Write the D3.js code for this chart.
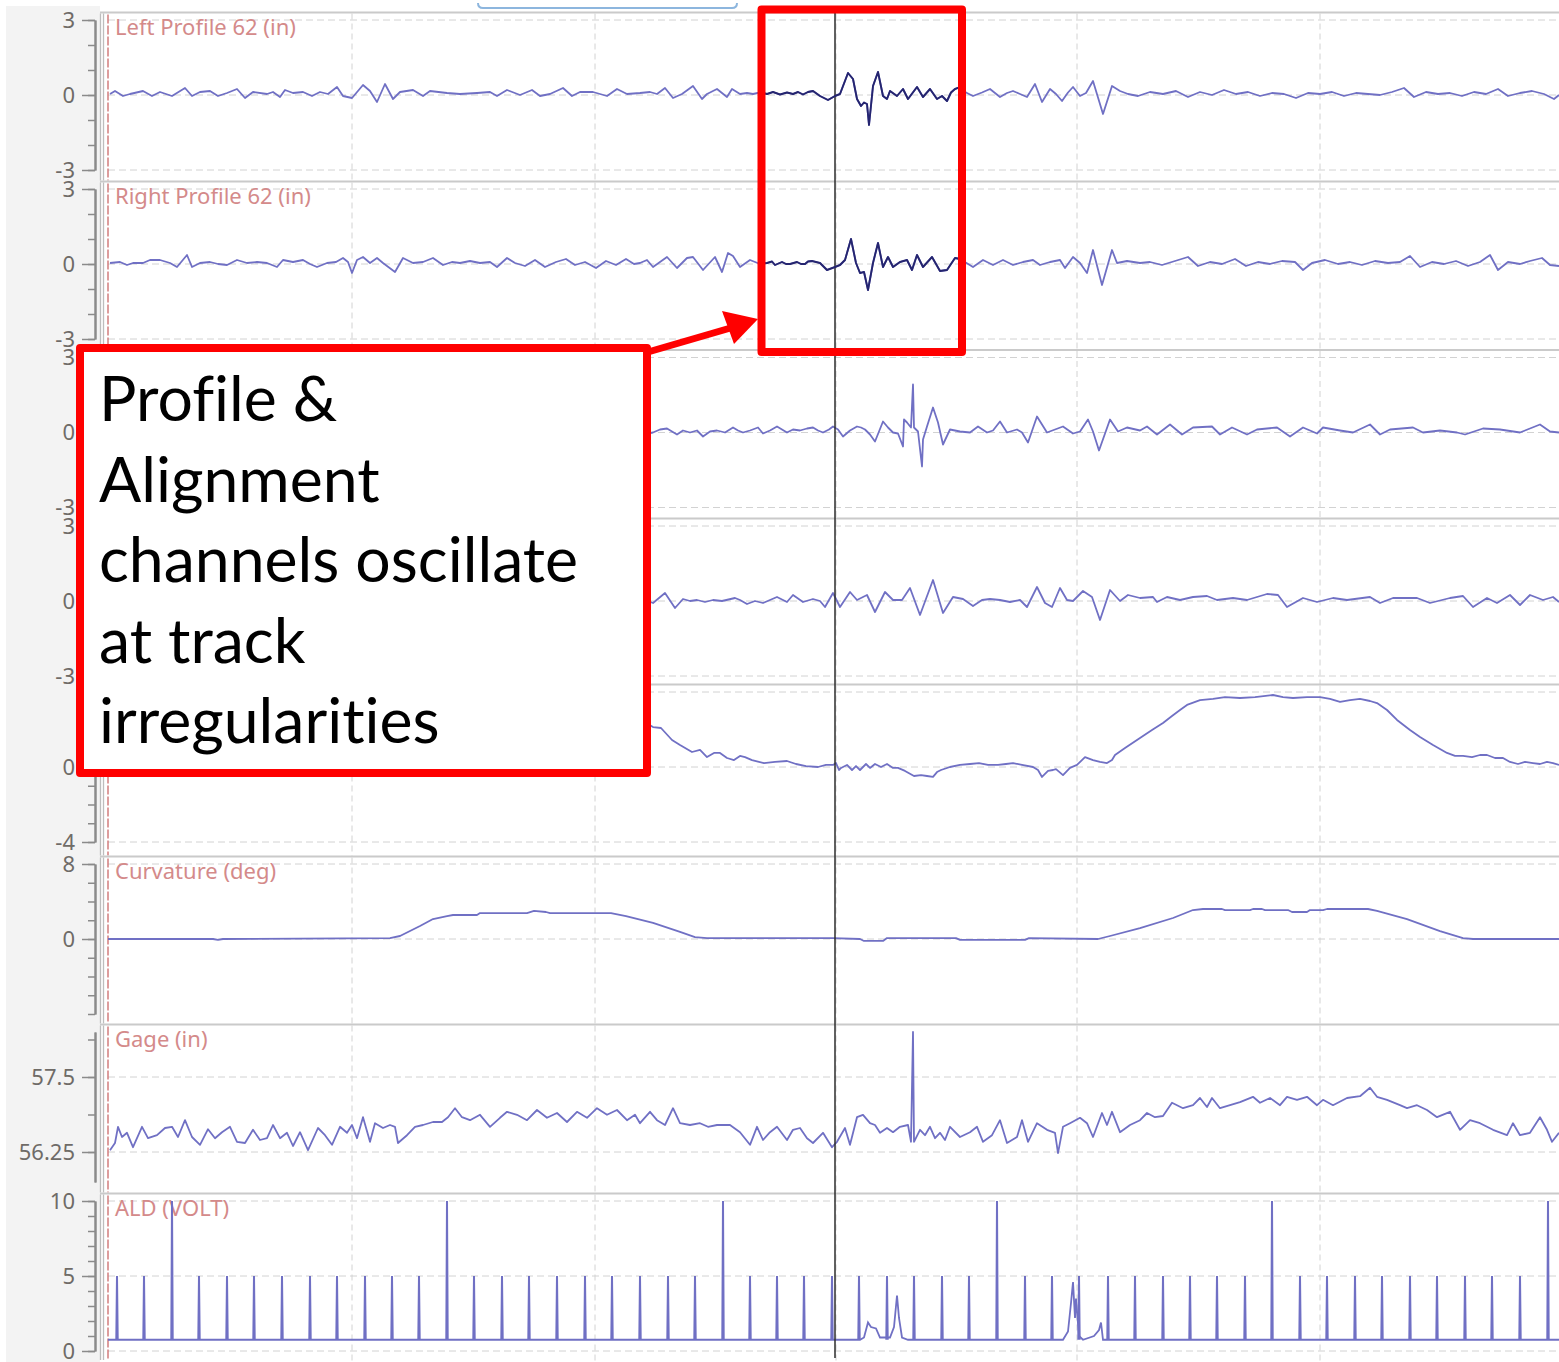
<!DOCTYPE html>
<html>
<head>
<meta charset="utf-8">
<script src="https://cdn.jsdelivr.net/npm/d3@7"></script>
<style>
  html, body { margin: 0; padding: 0; background: #fff; }
  svg { display: block; }
  text { font-variant-ligatures: none; font-feature-settings: "liga" 0, "clig" 0; }
</style>
</head>
<body>
<svg id="chart" width="1559" height="1362"></svg>
<script>
// ---- Channel setup ----------------------------------------------------
const channelTitles = ["Left Profile 62 (in)", "Right Profile 62 (in)", "", "", "", "Curvature (deg)", "Gage (in)", "ALD (VOLT)"];
const channelDomains = [[-3, 3], [-3, 3], [-3, 3], [-3, 3], [-4, 4], [-8, 8], [55.75, 58.25], [0, 10]];
const channelTickLabels = [[3, 0, -3], [3, 0, -3], [3, 0, -3], [3, 0, -3], [0, -4], [8, 0], [57.5, 56.25], [10, 5, 0]];
const channelMinorStep = [1, 1, 1, 1, 1, 2, 0.625, 1];

// distance positions of the dashed vertical grid and of the cursor
const gridPositions = [244, 487, 728, 969, 1212];
const cursorPosition = 727;

// ---- Channel traces: [distance, value] --------------------------------
const leftProfile62 = [[2,0.04],[7,0.16],[15,-0.04],[22,0.04],[35,0.16],[44,-0.04],[52,0.12],[64,-0.04],[77,0.28],[84,-0.04],[92,0.12],[102,0.16],[110,-0.04],[119,0.08],[129,0.24],[137,-0.12],[145,0.12],[159,0.04],[165,0.12],[172,-0.08],[177,0.2],[185,0.08],[195,0.12],[204,-0.04],[212,0.12],[220,0.04],[229,0.32],[235,-0.04],[244,-0.12],[255,0.4],[262,0.16],[269,-0.28],[277,0.44],[285,-0.16],[292,0.12],[305,0.2],[315,-0.04],[322,0.16],[339,0.08],[352,0.04],[369,0.08],[382,0.12],[389,-0.04],[399,0.2],[412,0],[424,0.2],[432,-0.04],[442,0.04],[455,0.28],[464,-0.04],[472,0.12],[485,0.12],[499,-0.04],[509,0.24],[519,0.04],[532,0.08],[542,0.12],[549,0.04],[557,0.28],[565,-0.12],[574,0.04],[585,0.36],[594,-0.16],[599,0.04],[609,0.24],[619,-0.08],[624,0.24],[632,0.04],[639,0.08],[645,0.04],[652,0.1],[659,0.04],[665,0.12],[672,0.02],[679,0.1],[685,0.04],[690,0.12],[695,0.02],[700,0.12],[705,0.16],[712,-0.04],[720,-0.2],[727,-0.04],[732,0.04],[740,0.88],[745,0.64],[749,-0.16],[753,-0.44],[756,-0.3],[759,-0.36],[761,-1.2],[765,0.36],[770,0.92],[775,-0.04],[779,-0.16],[782,0.16],[789,-0.04],[795,0.24],[800,-0.16],[809,0.32],[815,-0.08],[822,0.24],[829,-0.16],[834,-0.04],[839,-0.24],[843,0.1],[847,0.24],[852,0.32],[858,0.1],[865,-0.04],[874,0.1],[882,0.24],[892,-0.08],[899,0.08],[905,0.16],[912,0.04],[919,-0.08],[927,0.44],[934,-0.28],[942,0.24],[948,0.04],[954,-0.24],[960,0.1],[965,0.32],[972,-0.04],[978,0.08],[985,0.56],[995,-0.76],[1004,0.36],[1012,0.16],[1020,0.04],[1030,-0.04],[1042,0.12],[1055,0.04],[1068,0.16],[1080,-0.08],[1092,0.12],[1104,0],[1116,0.2],[1128,0.04],[1140,0.12],[1152,-0.04],[1164,0.08],[1176,0.04],[1188,-0.12],[1200,0.08],[1212,0.04],[1224,0.12],[1236,-0.04],[1248,0.08],[1260,0.04],[1272,0],[1284,0.12],[1296,0.28],[1306,-0.08],[1318,0.12],[1330,0.04],[1342,0.08],[1354,-0.04],[1366,0.12],[1378,0.04],[1390,0.24],[1400,-0.04],[1412,0.08],[1424,0.16],[1436,0.04],[1446,-0.16],[1451,0]];

const rightProfile62 = [[2,0.04],[12,0.08],[19,-0.04],[25,0.04],[35,0.04],[42,0.16],[52,0.16],[62,0.04],[69,-0.12],[79,0.36],[84,-0.12],[92,0.04],[102,0.08],[110,0],[119,-0.04],[129,0.16],[139,0.04],[149,0.08],[159,0.04],[169,-0.12],[175,0.16],[185,0.08],[195,0.16],[202,0],[209,-0.12],[219,0.04],[228,0.08],[235,0.24],[240,0.08],[244,-0.36],[249,0.16],[255,0.28],[262,0.04],[269,0.24],[275,0.04],[287,-0.32],[295,0.24],[305,0.04],[315,0.08],[325,0.24],[335,-0.04],[344,0.08],[352,0.04],[362,0.12],[372,0.04],[382,0.08],[389,-0.12],[399,0.24],[407,0.04],[417,-0.08],[427,0.16],[437,-0.12],[448,0.08],[458,0.2],[467,-0.04],[477,0.08],[488,-0.16],[498,0.12],[508,-0.04],[518,0.2],[526,0],[532,0.04],[539,0.16],[545,-0.12],[559,0.28],[569,-0.16],[579,0.24],[585,0.28],[595,-0.24],[607,0.28],[614,-0.32],[620,0.44],[625,0.32],[632,-0.12],[642,0.16],[652,0],[659,0.04],[664,0.1],[667,-0.04],[674,0.08],[678,0],[682,0],[689,0.08],[693,0],[697,0],[700,0.1],[704,0.12],[712,0.04],[719,-0.24],[727,-0.12],[732,-0.04],[737,0.16],[743,1.0],[748,0.04],[752,-0.36],[756,-0.32],[760,-1.04],[765,0.04],[770,0.84],[775,-0.12],[780,0.28],[785,-0.12],[792,0.08],[799,0.16],[804,-0.24],[809,0.36],[815,-0.12],[824,0.28],[832,-0.28],[839,-0.24],[847,0.24],[852,0.2],[865,-0.12],[875,0.16],[885,-0.04],[895,0.16],[905,-0.04],[915,0.08],[925,0.16],[932,-0.04],[942,0.08],[952,0.16],[957,-0.16],[965,0.28],[972,0.04],[979,-0.36],[985,0.56],[994,-0.84],[1004,0.56],[1009,0.04],[1019,0.12],[1032,0.04],[1042,0.08],[1054,-0.04],[1067,0.12],[1080,0.28],[1090,-0.08],[1102,0.08],[1114,0],[1127,0.2],[1138,-0.08],[1150,0.08],[1162,0],[1174,0.12],[1187,0.08],[1195,-0.24],[1204,0.04],[1217,0.16],[1230,0],[1242,0.08],[1254,-0.04],[1267,0.12],[1280,0.04],[1292,0.08],[1302,0.32],[1312,-0.12],[1324,0.08],[1336,0],[1348,0.12],[1360,-0.08],[1372,0.08],[1382,0.36],[1390,-0.24],[1400,0.08],[1412,0],[1422,0.12],[1434,0.24],[1442,-0.04],[1451,-0.08]];

const leftAlignment = [[0,0.04],[16,-0.08],[32,0.12],[48,0],[64,0.16],[80,-0.08],[96,0.08],[112,0.04],[128,0.2],[144,-0.12],[160,0.08],[176,0],[192,0.12],[208,-0.04],[224,0.16],[240,-0.2],[256,0.28],[272,-0.16],[288,0.12],[304,0],[320,0.08],[336,0.12],[352,-0.04],[368,0.08],[384,0.16],[400,-0.08],[416,0.04],[432,0.12],[448,-0.04],[464,0.2],[480,-0.12],[496,0.08],[512,0.04],[528,0.16],[540,-0.04],[545,0],[552,0.12],[559,0.16],[569,-0.08],[575,0.08],[582,0],[589,0.08],[595,-0.16],[602,0.04],[609,0.08],[617,0],[625,0.2],[630,0.08],[635,0],[642,0.08],[650,0.2],[655,-0.04],[662,0.08],[669,0.24],[679,0],[685,0.12],[692,0.08],[699,0.16],[705,0.2],[710,0.08],[715,0],[721,0.12],[725,0.24],[730,0.12],[735,-0.16],[742,0.08],[749,0.24],[753,0.2],[757,0.12],[762,-0.08],[767,-0.36],[771,0.04],[775,0.44],[780,0.2],[785,0],[790,-0.04],[795,-0.56],[796,0.52],[799,0.4],[803,0.2],[805,1.92],[806,0.2],[810,0.04],[814,-1.36],[815,-0.28],[819,0.24],[825,1.0],[830,0.4],[835,-0.48],[842,0.12],[852,0.04],[862,0],[870,0.24],[879,0],[885,0.08],[892,0.44],[899,0],[909,0.12],[914,0],[920,-0.4],[929,0.64],[939,0],[947,0.12],[955,0.24],[965,-0.04],[972,0.04],[980,0.52],[985,0.04],[991,-0.72],[1002,0.52],[1010,0.04],[1019,0.2],[1032,0.08],[1039,0.24],[1049,-0.08],[1062,0.32],[1074,-0.08],[1085,0.2],[1104,0.24],[1112,-0.08],[1124,0.2],[1139,-0.08],[1149,0.12],[1169,0.2],[1182,-0.16],[1195,0.2],[1209,-0.04],[1215,0.2],[1232,0.08],[1245,0],[1262,0.32],[1272,-0.08],[1282,0.12],[1305,0.2],[1315,0],[1332,0.08],[1349,0],[1357,-0.08],[1375,0.16],[1392,0.12],[1412,0],[1432,0.32],[1442,0.04],[1451,0]];

const rightAlignment = [[0,0],[16,0.12],[32,-0.08],[48,0.08],[64,0.16],[80,-0.04],[96,0.12],[112,0],[128,0.2],[144,-0.08],[160,0.08],[176,0.12],[192,-0.12],[208,0.08],[224,0.04],[240,0.24],[256,-0.2],[272,0.16],[288,0.04],[304,0.12],[320,-0.04],[336,0.08],[352,0.16],[368,0],[384,0.12],[400,-0.08],[416,0.12],[432,0.04],[448,0.2],[464,-0.04],[480,0.08],[496,0.16],[512,-0.08],[528,0.12],[540,0],[545,-0.08],[557,0.32],[567,-0.28],[575,0.08],[582,0],[589,0.04],[597,-0.04],[605,0.04],[614,0],[627,0.12],[632,0.04],[639,-0.12],[647,0],[655,-0.08],[662,0.04],[669,0.16],[679,-0.04],[685,0.24],[695,-0.04],[705,0.08],[712,0],[717,-0.24],[725,0.32],[732,-0.24],[742,0.36],[749,0.04],[759,0.24],[767,-0.44],[777,0.36],[785,0.04],[794,0.04],[802,0.52],[812,-0.56],[825,0.84],[835,-0.48],[845,0.16],[855,0.08],[865,-0.2],[874,0.04],[882,0.08],[892,0.04],[902,-0.04],[912,0.04],[919,-0.24],[929,0.56],[937,-0.08],[944,-0.24],[952,0.52],[959,0.04],[965,0],[975,0.4],[984,0.16],[992,-0.76],[1002,0.44],[1012,0],[1020,0.24],[1032,0.12],[1045,0.16],[1049,-0.04],[1059,0.16],[1072,0.04],[1085,0.16],[1099,0.2],[1109,0.04],[1125,0.12],[1139,0.04],[1159,0.28],[1170,0.24],[1179,-0.24],[1195,0.12],[1209,-0.04],[1225,0.12],[1239,0.04],[1262,0.16],[1272,-0.08],[1285,0.12],[1309,0.12],[1322,-0.08],[1342,0.12],[1355,0.2],[1365,-0.24],[1379,0.12],[1389,-0.08],[1402,0.24],[1412,-0.16],[1422,0.24],[1435,0.04],[1445,0.16],[1451,-0.04]];

const crossLevel = [[0,0.1],[40,0],[80,0.15],[120,0.05],[160,0.1],[200,0],[240,0.1],[270,0.3],[300,1.2],[330,2.2],[360,2.9],[390,3.2],[420,3.1],[450,3.3],[480,3.2],[510,3.0],[530,2.6],[545,2.13],[553,2.08],[564,1.44],[572,1.17],[584,0.8],[592,0.91],[599,0.53],[606,0.75],[612,0.75],[619,0.48],[626,0.37],[632,0.59],[637,0.53],[644,0.37],[656,0.21],[667,0.27],[679,0.32],[688,0.16],[698,0.05],[710,0],[718,0.11],[725,0.11],[728,0.21],[731,-0.16],[733,-0.05],[739,0.11],[744,-0.16],[748,0.05],[752,-0.16],[758,0.16],[762,-0.05],[767,0.16],[773,0],[779,0.16],[785,-0.05],[790,-0.05],[797,-0.21],[806,-0.48],[813,-0.43],[819,-0.48],[825,-0.53],[829,-0.27],[833,-0.16],[842,0],[852,0.11],[862,0.16],[871,0.21],[880,0.11],[890,0.11],[898,0.16],[905,0.21],[914,0.11],[925,0],[930,-0.16],[934,-0.53],[940,-0.21],[945,-0.16],[948,-0.11],[955,-0.43],[962,-0.05],[969,0.11],[977,0.53],[985,0.37],[992,0.27],[999,0.21],[1004,0.37],[1007,0.64],[1017,1.01],[1032,1.55],[1044,1.97],[1055,2.35],[1064,2.72],[1072,3.04],[1079,3.31],[1092,3.57],[1105,3.63],[1117,3.73],[1132,3.68],[1147,3.73],[1165,3.84],[1175,3.73],[1185,3.68],[1199,3.73],[1212,3.73],[1222,3.63],[1232,3.47],[1242,3.57],[1252,3.63],[1262,3.52],[1269,3.41],[1279,3.04],[1289,2.51],[1302,1.97],[1312,1.6],[1325,1.17],[1339,0.75],[1347,0.59],[1355,0.59],[1364,0.53],[1372,0.64],[1379,0.64],[1387,0.48],[1395,0.48],[1402,0.27],[1410,0.16],[1417,0.27],[1425,0.21],[1432,0.16],[1439,0.27],[1445,0.21],[1451,0.11]];

const curvature = [[0,0],[105,0],[110,-0.1],[115,0],[282,0.1],[292,0.32],[312,1.39],[325,2.13],[339,2.45],[345,2.56],[369,2.56],[372,2.77],[419,2.77],[426,2.99],[438,2.88],[442,2.77],[503,2.77],[518,2.45],[545,1.71],[572,0.75],[587,0.21],[599,0.1],[725,0.1],[752,0],[756,-0.21],[775,-0.21],[779,0.1],[848,0.1],[852,-0.1],[917,-0.1],[921,0.1],[990,0],[1002,0.32],[1032,1.17],[1065,2.24],[1085,3.09],[1095,3.2],[1114,3.2],[1117,3.09],[1142,3.09],[1145,3.2],[1154,3.2],[1157,3.09],[1180,3.09],[1184,2.88],[1199,2.88],[1202,3.09],[1215,3.09],[1219,3.2],[1260,3.2],[1269,2.99],[1299,2.13],[1332,0.85],[1355,0.1],[1365,0],[1451,0]];

const gage = [[2,56.28],[7,56.40],[10,56.67],[14,56.50],[19,56.57],[25,56.33],[34,56.67],[40,56.48],[49,56.53],[57,56.65],[64,56.67],[70,56.50],[77,56.78],[84,56.50],[92,56.37],[100,56.63],[107,56.48],[114,56.58],[122,56.67],[129,56.42],[137,56.40],[145,56.62],[152,56.45],[159,56.48],[165,56.70],[172,56.48],[179,56.57],[185,56.35],[192,56.58],[200,56.28],[210,56.65],[217,56.53],[224,56.37],[232,56.67],[239,56.57],[244,56.70],[249,56.48],[255,56.83],[262,56.42],[267,56.73],[275,56.65],[282,56.70],[287,56.67],[290,56.40],[299,56.53],[307,56.67],[315,56.70],[325,56.75],[334,56.75],[340,56.83],[347,56.98],[354,56.83],[362,56.78],[372,56.87],[382,56.67],[392,56.82],[399,56.92],[409,56.87],[419,56.78],[429,56.95],[439,56.82],[449,56.90],[459,56.75],[469,56.92],[479,56.82],[489,56.98],[499,56.87],[509,56.95],[519,56.78],[527,56.87],[532,56.73],[542,56.92],[549,56.78],[557,56.70],[565,56.98],[572,56.73],[582,56.70],[592,56.73],[600,56.67],[609,56.70],[622,56.70],[632,56.58],[642,56.37],[649,56.67],[655,56.45],[662,56.58],[669,56.67],[679,56.45],[685,56.62],[692,56.65],[699,56.48],[705,56.40],[715,56.57],[724,56.33],[729,56.42],[737,56.65],[742,56.37],[749,56.83],[755,56.87],[762,56.73],[767,56.70],[772,56.57],[779,56.65],[785,56.58],[792,56.67],[800,56.70],[803,56.42],[805,58.25],[806,56.42],[812,56.62],[817,56.53],[822,56.67],[827,56.48],[832,56.57],[837,56.45],[842,56.67],[852,56.50],[862,56.58],[869,56.67],[875,56.42],[884,56.53],[892,56.78],[899,56.40],[909,56.50],[914,56.78],[920,56.42],[929,56.73],[939,56.62],[947,56.57],[950,56.23],[955,56.67],[962,56.73],[972,56.82],[979,56.73],[985,56.50],[994,56.90],[999,56.70],[1004,56.92],[1012,56.58],[1022,56.70],[1032,56.78],[1039,56.90],[1047,56.83],[1055,56.85],[1064,57.07],[1075,56.98],[1085,57.03],[1092,57.15],[1099,57.00],[1104,57.15],[1112,56.98],[1122,57.03],[1132,57.08],[1145,57.17],[1152,57.07],[1162,57.15],[1172,57.03],[1179,57.17],[1189,57.12],[1199,57.17],[1209,57.03],[1215,57.12],[1225,57.03],[1239,57.15],[1252,57.18],[1262,57.32],[1269,57.17],[1279,57.12],[1292,57.03],[1299,56.98],[1309,57.03],[1319,56.95],[1329,56.83],[1342,56.92],[1352,56.62],[1362,56.78],[1372,56.73],[1385,56.62],[1399,56.53],[1405,56.73],[1412,56.53],[1422,56.57],[1432,56.83],[1439,56.62],[1444,56.42],[1451,56.57]];

// ALD: baseline level with two disturbance bursts, plus the marker pulses
const aldBaseline = [[0,0.75],[752,0.75],[756,0.9],[760,1.9],[763,1.6],[768,1.5],[772,0.9],[782,0.9],[786,1.6],[789,3.7],[791,2.2],[794,0.9],[800,0.75],[955,0.75],[960,1.3],[963,3.2],[965,4.6],[967,2.2],[968,3.5],[971,1.0],[975,0.75],[986,1.0],[991,1.4],[993,1.9],[995,0.75],[1451,0.75]];
const aldPulsePositions = [9,36,64,91,119,146,174,202,229,257,284,311,339,366,394,421,449,477,504,532,560,587,615,642,669,696,724,751,779,806,834,861,889,917,944,971,1000,1027,1055,1082,1109,1137,1164,1192,1219,1247,1274,1302,1329,1357,1384,1412,1440];
const aldPulseHeights = [5,5,10,5,5,5,5,5,5,5,5,5,10,5,5,5,5,5,5,5,5,5,10,5,5,5,5,5,5,5,5,5,10,5,5,5,5,5,5,5,5,5,10,5,5,5,5,5,5,5,5,5,10];

const annotationLines = ["Profile &", "Alignment", "channels oscillate", "at track", "irregularities"];

// ---- Layout ----------------------------------------------------------
const W = 1559, H = 1362;
const panelTops = [20, 189, 357.5, 526, 692, 864, 1032, 1201];
const PLOT_H = 150;
const AXIS_X = 95, PLOT_LEFT = 108;
const TRACE = "#7070c4", TRACE_DARK = "#25256f";

const svg = d3.select("#chart");
const x = d3.scaleLinear().domain([0, 1451]).range([PLOT_LEFT, W]);

svg.append("rect").attr("width", W).attr("height", H).attr("fill", "#fff");
svg.append("rect").attr("x", 6).attr("y", 6).attr("width", 94).attr("height", H - 6).attr("fill", "#f3f3f3");

// scroll bracket along the top edge
svg.append("path")
  .attr("d", "M478,3 Q478,8 483,8 L732,8 Q737,8 737,3")
  .attr("fill", "none").attr("stroke", "#8db6de").attr("stroke-width", 2);

const seriesData = [leftProfile62, rightProfile62, leftAlignment, rightAlignment, crossLevel, curvature, gage, null];
const yScales = [];

function minorTicks(domain, labels, step) {
  let lo = Math.min(...labels);
  while (lo - step >= domain[0] - 1e-9) lo -= step;
  return d3.range(lo, domain[1] + 1e-9, step).map(v => +v.toFixed(4));
}

const layers = svg.append("g");
const traceLayer = svg.append("g");

channelTitles.forEach((title, i) => {
  const top = panelTops[i], bottom = top + PLOT_H;
  const frameTop = top - 7.5;
  const frameBottom = i < panelTops.length - 1 ? panelTops[i + 1] - 7.5 : top + 160;
  const y = d3.scaleLinear().domain(channelDomains[i]).range([bottom, top]);
  yScales.push(y);
  const g = layers.append("g");

  // panel frame
  g.append("line").attr("x1", 100).attr("x2", W).attr("y1", frameTop).attr("y2", frameTop)
    .attr("stroke", "#cacaca").attr("stroke-width", 2);
  [100.5, 103.5].forEach(px => g.append("line")
    .attr("x1", px).attr("x2", px).attr("y1", frameTop + 1).attr("y2", frameBottom - 1)
    .attr("stroke", "#bdbdbd").attr("stroke-width", 1.3));

  // dashed grid
  const gridVals = i === 4 ? [4, 0, -4] : channelTickLabels[i];
  g.selectAll(".hgrid").data(gridVals).join("line")
    .attr("x1", PLOT_LEFT).attr("x2", W)
    .attr("y1", d => y(d)).attr("y2", d => y(d))
    .attr("stroke", "#d2d2d2").attr("stroke-width", 1).attr("stroke-dasharray", "7,4");
  g.selectAll(".vgrid").data(gridPositions).join("line")
    .attr("x1", d => x(d)).attr("x2", d => x(d))
    .attr("y1", frameTop + 1).attr("y2", frameBottom)
    .attr("stroke", "#d2d2d2").attr("stroke-width", 1).attr("stroke-dasharray", "6,4");

  // start-of-section marker line
  g.append("line").attr("x1", PLOT_LEFT).attr("x2", PLOT_LEFT)
    .attr("y1", frameTop + 2).attr("y2", frameBottom - 1)
    .attr("stroke", "#cf7474").attr("stroke-width", 1.4).attr("stroke-dasharray", "9,2");

  // axes: minor ticks, then labelled ticks
  const minorAxis = g.append("g").attr("transform", `translate(${AXIS_X},0)`)
    .call(d3.axisLeft(y).tickValues(minorTicks(channelDomains[i], channelTickLabels[i], channelMinorStep[i]))
      .tickSize(7).tickSizeOuter(0).tickFormat(""));
  const majorAxis = g.append("g").attr("transform", `translate(${AXIS_X},0)`)
    .call(d3.axisLeft(y).tickValues(channelTickLabels[i])
      .tickSize(13).tickSizeOuter(0).tickPadding(7).tickFormat(d => String(d)));
  [minorAxis, majorAxis].forEach(a => {
    a.select(".domain").attr("stroke", "#8a8a8a").attr("stroke-width", 2);
    a.selectAll(".tick line").attr("stroke", "#8a8a8a").attr("stroke-width", 1.5);
  });
  majorAxis.selectAll(".tick text")
    .attr("fill", "#6f6b67").style("font-family", "'Noto Sans', sans-serif").style("font-size", "22px");

  // channel name
  if (title) {
    g.append("text").attr("x", 115).attr("y", top + 15)
      .attr("fill", "#d48a8a").style("font-family", "'Noto Sans', sans-serif").style("font-size", "22px")
      .text(title);
  }

  // trace
  if (seriesData[i]) {
    traceLayer.append("path")
      .datum(seriesData[i])
      .attr("d", d3.line().x(d => x(d[0])).y(d => y(d[1])))
      .attr("fill", "none").attr("stroke", TRACE).attr("stroke-width", 1.8)
      .attr("stroke-linejoin", "round");
  }
});

// ALD channel: baseline and marker pulses
const yAld = yScales[7];
traceLayer.append("path")
  .datum(aldBaseline)
  .attr("d", d3.line().x(d => x(d[0])).y(d => yAld(d[1])))
  .attr("fill", "none").attr("stroke", TRACE).attr("stroke-width", 1.8);
traceLayer.append("path")
  .datum(aldPulsePositions.map((p, k) => [p, aldPulseHeights[k]]))
  .attr("d", pts => pts.map(([p, h]) =>
    `M${x(p - 0.7)},${yAld(0.75)}L${x(p)},${yAld(h)}L${x(p + 0.7)},${yAld(0.75)}`).join(""))
  .attr("fill", "none").attr("stroke", TRACE).attr("stroke-width", 2);

// cursor
svg.append("line").attr("x1", x(cursorPosition)).attr("x2", x(cursorPosition))
  .attr("y1", 13).attr("y2", 1358).attr("stroke", "#2d2d2d").attr("stroke-width", 1.5);

// selected window: profile traces drawn in the darker highlight colour
svg.append("clipPath").attr("id", "selWin")
  .append("rect").attr("x", 765).attr("y", 13).attr("width", 194).attr("height", 336);
const selG = svg.append("g").attr("clip-path", "url(#selWin)");
[0, 1].forEach(i => {
  selG.append("path").datum(seriesData[i])
    .attr("d", d3.line().x(d => x(d[0])).y(d => yScales[i](d[1])))
    .attr("fill", "none").attr("stroke", TRACE_DARK).attr("stroke-width", 1.9)
    .attr("stroke-linejoin", "round");
});

// ---- Callout ---------------------------------------------------------
const RED = "#ff0000";
svg.append("rect").attr("x", 761.5).attr("y", 9.5).attr("width", 200.5).attr("height", 342.5)
  .attr("fill", "none").attr("stroke", RED).attr("stroke-width", 8).attr("stroke-linejoin", "round");

svg.append("line").attr("x1", 648).attr("y1", 352).attr("x2", 734).attr("y2", 327)
  .attr("stroke", RED).attr("stroke-width", 7);
svg.append("path").attr("d", "M758,319 L722,311 L734,344 Z").attr("fill", RED);

svg.append("rect").attr("x", 80).attr("y", 348).attr("width", 567).attr("height", 425)
  .attr("fill", "#fff").attr("stroke", RED).attr("stroke-width", 8).attr("stroke-linejoin", "round");

svg.append("g").selectAll("text").data(annotationLines).join("text")
  .attr("x", 99).attr("y", (d, k) => 421 + k * 80.5)
  .attr("fill", "#000")
  .style("font-family", "Lato, 'Open Sans', sans-serif").style("font-size", "62.5px")
  .text(d => d);
</script>
</body>
</html>
